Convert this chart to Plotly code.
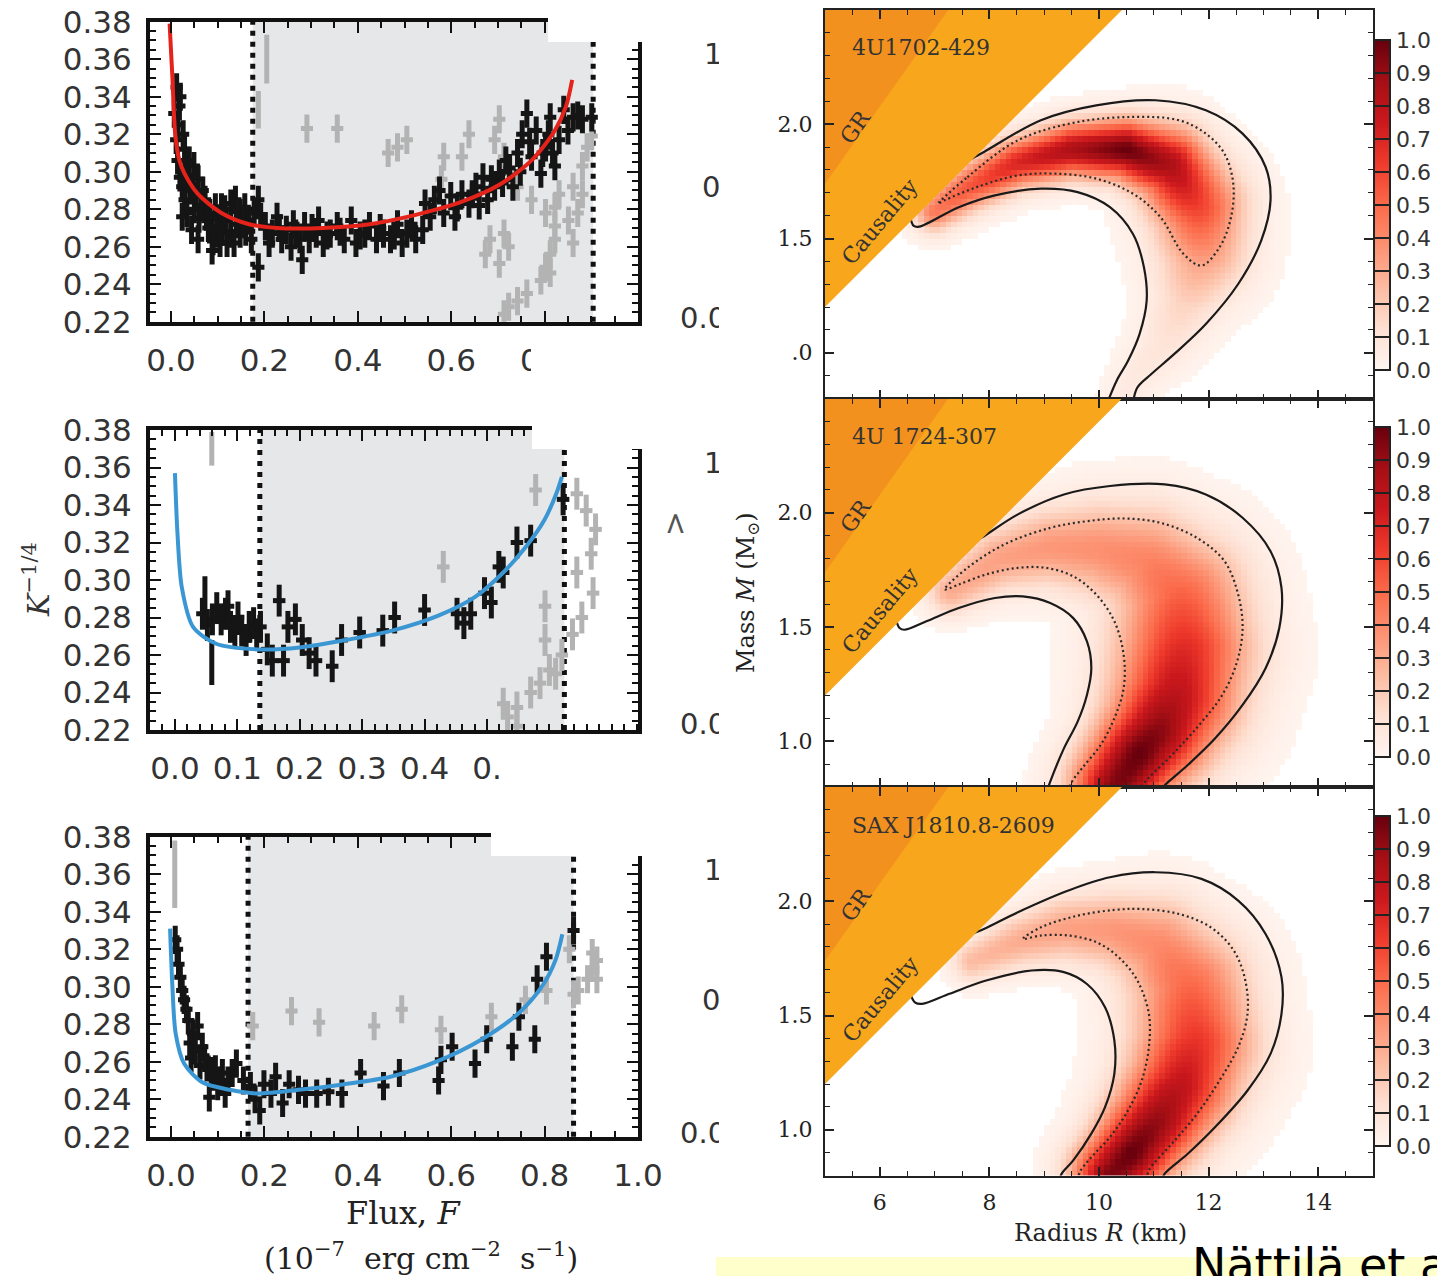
import numpy as np
import plotly.graph_objects as go

W, H = 1437, 1276
def fx(p): return p / W
def fy(p): return 1 - p / H

# ------------------------------------------------------------------ left column data
K_TICKS = [0.22, 0.24, 0.26, 0.28, 0.30, 0.32, 0.34, 0.36, 0.38]

L1_BLACK = [(0.007,0.331),(0.011,0.317),(0.014,0.306),(0.019,0.297),(0.024,0.292),(0.029,0.285),(0.034,0.278),
            (0.029,0.312),(0.039,0.306),(0.049,0.303),(0.058,0.296),(0.068,0.290),(0.073,0.285),(0.083,0.278),
            (0.088,0.271),(0.098,0.267),(0.108,0.281),(0.118,0.274),(0.128,0.283),(0.138,0.285),(0.148,0.278),
            (0.158,0.281),(0.167,0.274),(0.088,0.258),(0.058,0.264),(0.044,0.269),(0.024,0.276),(0.128,0.267),
            (0.148,0.267),(0.172,0.264),(0.187,0.285),(0.192,0.276),(0.187,0.249),(0.202,0.271),(0.217,0.267),
            (0.227,0.276),(0.237,0.264),(0.247,0.269),(0.257,0.260),(0.267,0.267),(0.281,0.253),(0.286,0.271),
            (0.296,0.264),(0.311,0.267),(0.316,0.274),(0.326,0.262),(0.341,0.267),(0.356,0.271),(0.371,0.264),
            (0.386,0.274),(0.396,0.262),(0.415,0.267),(0.425,0.271),(0.440,0.264),(0.455,0.267),(0.470,0.264),
            (0.485,0.272),(0.505,0.267),(0.524,0.264),(0.539,0.269),(0.544,0.283),(0.564,0.285),(0.584,0.278),
            (0.599,0.287),(0.613,0.281),(0.623,0.288),(0.638,0.283),(0.653,0.292),(0.668,0.297),(0.678,0.285),
            (0.693,0.292),(0.703,0.299),(0.717,0.306),(0.732,0.292),(0.742,0.310),(0.752,0.320),(0.762,0.331),
            (0.772,0.308),(0.782,0.322),(0.792,0.299),(0.802,0.313),(0.812,0.329),(0.822,0.303),(0.831,0.317),
            (0.841,0.333),(0.861,0.329),(0.881,0.328),(0.901,0.329),(0.817,0.310),
            (0.020,0.340),(0.015,0.325),(0.030,0.300),(0.040,0.290),(0.050,0.280),(0.060,0.275),(0.070,0.280),
            (0.080,0.270),(0.100,0.275),(0.110,0.268),(0.120,0.262),(0.140,0.272),(0.160,0.268),(0.090,0.263),
            (0.012,0.345),(0.018,0.335),(0.026,0.320),(0.036,0.298),(0.046,0.292),(0.054,0.287),(0.064,0.282),
            (0.076,0.276),(0.095,0.281),(0.105,0.262),(0.115,0.280),(0.135,0.262),(0.155,0.272),(0.178,0.278),
            (0.210,0.262),(0.232,0.270),(0.262,0.272),(0.276,0.264),(0.302,0.270),(0.334,0.266),(0.362,0.268),
            (0.405,0.266),(0.448,0.270),(0.478,0.266),(0.495,0.262),(0.515,0.272),(0.555,0.276),(0.575,0.290),
            (0.608,0.276),(0.645,0.288),(0.660,0.282),(0.686,0.296),(0.710,0.294),(0.725,0.302),(0.748,0.300),
            (0.768,0.316),(0.796,0.310),(0.808,0.320),(0.850,0.322),(0.871,0.330)]
L1_GREY = [(0.291,0.323),(0.356,0.323),(0.465,0.310),(0.485,0.313),(0.505,0.317),(0.584,0.308),(0.579,0.296),
           (0.623,0.308),(0.638,0.320),(0.703,0.328),(0.693,0.317),(0.713,0.308),(0.723,0.299),(0.742,0.292),
           (0.772,0.285),(0.802,0.278),(0.822,0.281),(0.831,0.288),(0.861,0.292),(0.881,0.303),(0.891,0.313),
           (0.901,0.319),(0.881,0.288),(0.871,0.278),(0.851,0.274),(0.822,0.271),(0.713,0.267),(0.683,0.264),
           (0.673,0.256),(0.703,0.251),(0.723,0.260),(0.822,0.264),(0.861,0.262),(0.812,0.256),(0.802,0.249),
           (0.792,0.242),(0.812,0.246),(0.762,0.235),(0.742,0.231),(0.723,0.228),(0.713,0.224)]
L1_GREY_BARS = [(0.205,0.360,0.013),(0.187,0.333,0.010)]
L1_FIT = [(-0.003,0.379),(0.003,0.350),(0.009,0.320),(0.018,0.306),(0.029,0.299),(0.058,0.288),(0.108,0.278),
          (0.167,0.272),(0.227,0.270),(0.326,0.270),(0.425,0.272),(0.524,0.277),(0.623,0.284),(0.703,0.293),
          (0.772,0.306),(0.822,0.322),(0.846,0.335),(0.859,0.349)]
L1_BOUNDS = [0.175, 0.904]

L2_BLACK = [(0.044,0.282),(0.067,0.285),(0.074,0.279),(0.081,0.282),(0.089,0.275),(0.096,0.272),
            (0.107,0.273),(0.119,0.275),(0.126,0.277),(0.137,0.275),(0.148,0.263),(0.156,0.257),(0.167,0.289),
            (0.174,0.257),(0.181,0.275),(0.193,0.279),(0.204,0.268),(0.215,0.261),(0.226,0.257),(0.252,0.254),
            (0.267,0.268),(0.296,0.272),(0.333,0.273),(0.352,0.280),(0.400,0.284),(0.452,0.282),(0.463,0.277),
            (0.474,0.282),(0.496,0.293),(0.507,0.288),(0.519,0.307),(0.526,0.304),(0.548,0.320),(0.570,0.321),
            (0.622,0.343),(0.052,0.276),(0.060,0.279),(0.085,0.286),(0.101,0.280),(0.114,0.268),(0.131,0.271)]
L2_BLACK_BARS = [(0.048,0.288,0.014),(0.059,0.256,0.012)]
L2_GREY = [(0.430,0.307),(0.578,0.348),(0.644,0.346),(0.659,0.337),(0.674,0.327),(0.667,0.314),(0.644,0.304),
           (0.670,0.293),(0.593,0.286),(0.652,0.280),(0.637,0.271),(0.593,0.268),(0.600,0.252),(0.585,0.245),
           (0.570,0.240),(0.548,0.232),(0.526,0.234),(0.533,0.227),(0.548,0.222),(0.620,0.260),(0.610,0.250)]
L2_GREY_BARS = [(0.059,0.370,0.009)]
L2_FIT = [(0.000,0.357),(0.004,0.325),(0.011,0.296),(0.029,0.275),(0.066,0.266),(0.133,0.263),(0.200,0.264),
          (0.274,0.268),(0.348,0.273),(0.422,0.281),(0.481,0.291),(0.526,0.304),(0.563,0.318),(0.592,0.332),
          (0.611,0.346),(0.620,0.355)]
L2_BOUNDS = [0.136, 0.624]

L3_BLACK = [(0.013,0.320),(0.020,0.305),(0.028,0.293),(0.037,0.282),(0.047,0.275),(0.057,0.279),(0.067,0.268),
            (0.077,0.257),(0.082,0.241),(0.091,0.252),(0.106,0.250),(0.116,0.243),(0.131,0.254),(0.140,0.259),
            (0.155,0.250),(0.170,0.247),(0.180,0.240),(0.190,0.234),(0.199,0.248),(0.214,0.243),(0.224,0.252),
            (0.239,0.238),(0.253,0.248),(0.273,0.245),(0.288,0.243),(0.312,0.243),(0.337,0.244),(0.366,0.243),
            (0.406,0.254),(0.455,0.247),(0.489,0.254),(0.573,0.250),(0.578,0.261),(0.602,0.268),(0.651,0.259),
            (0.676,0.272),(0.731,0.268),(0.745,0.284),(0.779,0.272),(0.784,0.304),(0.804,0.316),(0.862,0.330),
            (0.016,0.312),(0.024,0.298),(0.033,0.288),(0.043,0.262),(0.052,0.266),(0.062,0.258),(0.072,0.262),
            (0.086,0.255),(0.100,0.247),(0.122,0.250),(0.009,0.325),(0.040,0.270),(0.095,0.256),(0.110,0.254)]
L3_GREY = [(0.175,0.279),(0.258,0.287),(0.317,0.281),(0.435,0.279),(0.494,0.288),(0.578,0.277),(0.686,0.284),
           (0.759,0.293),(0.804,0.298),(0.853,0.320),(0.902,0.318),(0.912,0.314),(0.892,0.304),(0.912,0.304),
           (0.872,0.298),(0.902,0.310),(0.862,0.296)]
L3_GREY_BARS = [(0.008,0.360,0.018)]
L3_FIT = [(-0.002,0.331),(0.003,0.300),(0.010,0.275),(0.028,0.259),(0.067,0.249),(0.126,0.245),(0.185,0.243),
          (0.273,0.245),(0.371,0.248),(0.470,0.252),(0.568,0.260),(0.666,0.272),(0.745,0.286),(0.794,0.300),
          (0.823,0.314),(0.838,0.328)]
L3_BOUNDS = [0.165, 0.862]

# ------------------------------------------------------------------ right column data
MASS_TICKS = [1.0, 1.5, 2.0]
RADIUS_TICKS = [6, 8, 10, 12, 14]
CB_TICKS = [0.0, 0.1, 0.2, 0.3, 0.4, 0.5, 0.6, 0.7, 0.8, 0.9, 1.0]
SOURCES = ["4U1702-429", "4U 1724-307", "SAX J1810.8-2609"]
CAUSALITY_R, CAUSALITY_M = [5.0, 10.42, 5.0], [1.20, 2.50, 2.50]
GR_R, GR_M = [5.0, 7.25, 5.0], [1.74, 2.50, 2.50]

# ridge control points of the posterior (R, M, peak, width in px)
TOP_RIDGE = [(7.0,1.62,0.45,14),(7.6,1.72,0.55,16),(8.5,1.83,0.70,17),(9.5,1.89,0.85,18),(10.5,1.89,1.00,20),
             (11.3,1.82,0.85,26),(11.8,1.64,0.60,31),(11.9,1.45,0.35,31),(11.62,1.25,0.18,24),(11.22,1.05,0.10,20),
             (10.66,0.90,0.07,15),(10.35,0.78,0.06,12)]
MID_RIDGE = [(7.3,1.66,0.30,16),(8.2,1.80,0.33,22),(9.1,1.85,0.36,26),(10.0,1.84,0.38,32),(10.9,1.78,0.42,38),
             (11.5,1.62,0.52,44),(11.55,1.40,0.68,45),(11.4,1.20,0.80,42),(11.1,1.05,0.93,36),(10.75,0.95,1.00,32),
             (10.3,0.80,0.95,30)]
BOT_RIDGE = [(7.7,1.74,0.25,14),(8.6,1.83,0.30,18),(9.4,1.88,0.33,22),(10.3,1.87,0.36,26),(11.1,1.80,0.40,34),
             (11.65,1.62,0.50,40),(11.75,1.38,0.65,40),(11.5,1.20,0.78,36),(11.1,1.05,0.90,32),(10.6,0.90,1.00,28),
             (10.2,0.80,0.95,26)]

TOP_SOLID_OUT = [(10.62,0.78),(10.70,0.848),(10.95,0.906),(11.37,0.994),(11.95,1.126),(12.54,1.301),(12.96,1.491),
                 (13.13,1.667),(13.04,1.813),(12.62,1.959),(11.95,2.061),(11.03,2.105),(9.95,2.083),(8.94,2.018),
                 (7.90,1.879),(7.60,1.84)]
TOP_SOLID_IN = [(6.55,1.60),(6.62,1.555),(6.72,1.552),(7.44,1.637),(8.10,1.689),(8.94,1.718),(9.61,1.703),
                (10.20,1.637),(10.62,1.520),(10.82,1.374),(10.87,1.228),(10.74,1.082),(10.53,0.965),(10.32,0.877),
                (10.15,0.78)]
TOP_DOTTED = [(7.06,1.652),(7.60,1.769),(8.52,1.930),(9.61,2.010),(10.62,2.032),(11.45,2.018),(11.95,1.959),
              (12.29,1.871),(12.45,1.740),(12.41,1.594),(12.20,1.462),(11.87,1.382),(11.54,1.433),(11.12,1.594),
              (10.62,1.696),(9.95,1.762),(9.19,1.784),(8.52,1.776),(7.77,1.725),(7.18,1.667),(7.06,1.652)]

MID_SOLID_OUT = [(11.10,0.78),(11.20,0.808),(11.62,0.896),(12.12,1.013),(12.62,1.159),(13.04,1.320),(13.29,1.496),
                 (13.33,1.671),(13.13,1.832),(12.62,1.978),(11.95,2.080),(11.20,2.124),(10.20,2.117),(9.36,2.080),
                 (8.52,1.993),(7.85,1.890),(7.55,1.85)]
MID_SOLID_IN = [(6.30,1.53),(6.36,1.496),(6.45,1.488),(6.85,1.525),(7.44,1.583),(8.10,1.627),(8.61,1.634),
                (9.11,1.605),(9.53,1.539),(9.78,1.437),(9.86,1.320),(9.78,1.203),(9.61,1.086),(9.36,0.969),
                (9.11,0.823),(9.05,0.78)]
MID_DOTTED = [(9.45,0.78),(9.49,0.816),(9.69,0.882),(10.03,0.984),(10.28,1.101),(10.45,1.232),(10.45,1.379),
              (10.28,1.525),(9.95,1.642),(9.53,1.722),(9.03,1.759),(8.52,1.759),(7.94,1.730),(7.44,1.686),
              (7.18,1.664),(7.60,1.759),(8.27,1.861),(9.11,1.934),(9.78,1.963),(10.45,1.975),(11.12,1.956),
              (11.79,1.890),(12.29,1.788),(12.54,1.642),(12.62,1.496),(12.52,1.349),(12.25,1.203),(11.83,1.072),
              (11.33,0.940),(10.82,0.816),(10.75,0.78)]

BOT_SOLID_OUT = [(11.15,0.78),(11.20,0.808),(11.62,0.895),(12.12,1.012),(12.71,1.172),(13.13,1.332),(13.33,1.507),
                 (13.33,1.668),(13.04,1.857),(12.54,2.003),(11.87,2.098),(11.03,2.127),(10.20,2.105),(9.44,2.047),
                 (8.52,1.952),(7.90,1.879),(7.60,1.85)]
BOT_SOLID_IN = [(6.55,1.60),(6.64,1.558),(6.77,1.551),(7.27,1.595),(7.94,1.653),(8.77,1.697),(9.36,1.690),
                (9.78,1.638),(10.11,1.536),(10.28,1.391),(10.28,1.245),(10.11,1.099),(9.86,0.983),(9.53,0.866),
                (9.32,0.808),(9.28,0.78)]
BOT_DOTTED = [(9.62,0.78),(9.65,0.815),(9.86,0.880),(10.20,0.968),(10.53,1.085),(10.78,1.216),(10.91,1.362),
              (10.91,1.507),(10.70,1.653),(10.36,1.755),(9.95,1.821),(9.44,1.850),(8.94,1.850),(8.61,1.835),
              (8.94,1.886),(9.61,1.937),(10.28,1.962),(10.78,1.966),(11.45,1.945),(12.04,1.886),(12.46,1.784),
              (12.67,1.653),(12.71,1.507),(12.54,1.362),(12.20,1.216),(11.79,1.070),(11.33,0.939),(10.91,0.822),
              (10.88,0.78)]

REDS = [[0.0, '#fff5f0'], [0.125, '#fee0d2'], [0.25, '#fcbba1'], [0.375, '#fc9272'], [0.5, '#fb6a4a'],
        [0.625, '#ef3b2c'], [0.75, '#cb181d'], [0.875, '#a50f15'], [1.0, '#67000d']]

PX_PER_KM, PX_PER_MSUN = 54.8, 228.4
R_CENTERS = np.arange(5.05, 15.0, 0.1)
M_CENTERS = np.arange(0.8125, 2.5, 0.025)

def ridge_density(ridge):
    RR, MM = np.meshgrid(R_CENTERS, M_CENTERS)
    Z = np.zeros_like(RR)
    pts = np.array(ridge, dtype=float)
    for i in range(len(pts) - 1):
        for t in np.linspace(0, 1, 16, endpoint=False):
            r, m, a, w = pts[i] + (pts[i + 1] - pts[i]) * t
            d2 = ((RR - r) * PX_PER_KM) ** 2 + ((MM - m) * PX_PER_MSUN) ** 2
            Z = np.maximum(Z, a * np.exp(-d2 / (2 * w * w)))
    Z[Z < 0.008] = np.nan
    return Z

# ------------------------------------------------------------------ figure
fig = go.Figure()
BLACK, GREY = '#151515', '#b3b3b3'

left = [
    dict(n='', black=L1_BLACK, bbars=[], grey=L1_GREY, gbars=L1_GREY_BARS, fit=L1_FIT, fitc='#e5231b',
         bounds=L1_BOUNDS, ex=0.013, ey=0.0075),
    dict(n='2', black=L2_BLACK, bbars=L2_BLACK_BARS, grey=L2_GREY, gbars=L2_GREY_BARS, fit=L2_FIT,
         fitc='#3a97d4', bounds=L2_BOUNDS, ex=0.010, ey=0.0085),
    dict(n='3', black=L3_BLACK, bbars=[], grey=L3_GREY, gbars=L3_GREY_BARS, fit=L3_FIT, fitc='#3a97d4',
         bounds=L3_BOUNDS, ex=0.013, ey=0.0075),
]
shapes = []
for p in left:
    xa, ya = 'x' + p['n'], 'y' + p['n']
    for pts, col in ((p['grey'], GREY), (p['black'], BLACK)):
        xs, ys = zip(*pts)
        fig.add_trace(go.Scatter(x=xs, y=ys, mode='markers', xaxis=xa, yaxis=ya, marker=dict(size=1, color=col),
                                 error_x=dict(type='constant', value=p['ex'], width=0, thickness=5, color=col),
                                 error_y=dict(type='constant', value=p['ey'], width=0, thickness=5, color=col),
                                 hoverinfo='skip', showlegend=False))
    for bars, col in ((p['gbars'], GREY), (p['bbars'], BLACK)):
        if bars:
            xs, ys, es = zip(*bars)
            fig.add_trace(go.Scatter(x=xs, y=ys, mode='markers', xaxis=xa, yaxis=ya,
                                     marker=dict(size=1, color=col),
                                     error_y=dict(type='data', array=list(es), width=0, thickness=5, color=col),
                                     hoverinfo='skip', showlegend=False))
    fx_, fy_ = zip(*p['fit'])
    fig.add_trace(go.Scatter(x=fx_, y=fy_, mode='lines', xaxis=xa, yaxis=ya, line=dict(color=p['fitc'], width=4,
                             shape='spline', smoothing=0.8), hoverinfo='skip', showlegend=False))
    b0, b1 = p['bounds']
    shapes.append(dict(type='rect', xref=xa, yref=ya + ' domain', x0=b0, x1=b1, y0=0, y1=1,
                       fillcolor='#e6e7e9', line=dict(width=0), layer='below'))
    for b in (b0, b1):
        shapes.append(dict(type='line', xref=xa, yref=ya + ' domain', x0=b, x1=b, y0=0, y1=1,
                           line=dict(color='#111', width=5, dash='5px,6px'), layer='below'))

ridges = [TOP_RIDGE, MID_RIDGE, BOT_RIDGE]
solids = [(TOP_SOLID_OUT, TOP_SOLID_IN), (MID_SOLID_OUT, MID_SOLID_IN), (BOT_SOLID_OUT, BOT_SOLID_IN)]
dotteds = [TOP_DOTTED, MID_DOTTED, BOT_DOTTED]
cb_centers = [205, 592, 981]
for k in range(3):
    xa, ya = 'x' + str(4 + k), 'y' + str(4 + k)
    fig.add_trace(go.Heatmap(x=R_CENTERS, y=M_CENTERS, z=ridge_density(ridges[k]), colorscale=REDS, zmin=0, zmax=1,
                             xaxis=xa, yaxis=ya, hoverinfo='skip', zsmooth=False,
                             colorbar=dict(x=fx(1374), xanchor='left', y=fy(cb_centers[k]), yanchor='middle',
                                           len=330, lenmode='pixels', thickness=16, outlinewidth=2,
                                           outlinecolor='#222', ticks='inside', ticklen=16, tickwidth=1.5,
                                           tickcolor='#222', tickvals=CB_TICKS,
                                           ticktext=['%.1f' % v for v in CB_TICKS],
                                           tickfont=dict(family='DejaVu Sans', size=22, color='#333'),
                                           xpad=0, ypad=0)))
    for path in solids[k]:
        xs, ys = zip(*path)
        fig.add_trace(go.Scatter(x=xs, y=ys, mode='lines', xaxis=xa, yaxis=ya,
                                 line=dict(color='#1a1a1a', width=2.2, shape='spline', smoothing=1.0),
                                 hoverinfo='skip', showlegend=False))
    xs, ys = zip(*dotteds[k])
    fig.add_trace(go.Scatter(x=xs, y=ys, mode='lines', xaxis=xa, yaxis=ya,
                             line=dict(color='#2a2a2a', width=2.2, dash='2px,3px', shape='spline', smoothing=1.0),
                             hoverinfo='skip', showlegend=False))
    fig.add_trace(go.Scatter(x=CAUSALITY_R, y=CAUSALITY_M, mode='lines', fill='toself', fillcolor='#f8a61c',
                             line=dict(width=0, color='#f8a61c'), xaxis=xa, yaxis=ya, hoverinfo='skip',
                             showlegend=False))
    fig.add_trace(go.Scatter(x=GR_R, y=GR_M, mode='lines', fill='toself', fillcolor='#f3911f',
                             line=dict(width=0, color='#f3911f'), xaxis=xa, yaxis=ya, hoverinfo='skip',
                             showlegend=False))

# clipped fragments of a neighbouring panel
FRAG = [("1.0", 704, 57), ("0.5", 702, 190), ("0.0", 680, 321),
        ("1.0", 704, 466), ("0.0", 680, 727),
        ("1.0", 704, 873), ("0.5", 702, 1003), ("0.0", 680, 1136)]
fig.add_trace(go.Scatter(x=[f[1] for f in FRAG], y=[f[2] for f in FRAG], text=[f[0] for f in FRAG],
                         mode='text', textposition='middle right', xaxis='x7', yaxis='y7', cliponaxis=True,
                         textfont=dict(family='DejaVu Sans', size=29, color='#333'), hoverinfo='skip',
                         showlegend=False))

# ------------------------------------------------------------------ axes
def left_axis(dom, rng, **kw):
    d = dict(domain=dom, range=rng, showline=True, linewidth=4, linecolor='#111', mirror='allticks',
             ticks='inside', ticklen=11, tickwidth=2, tickcolor='#111', showgrid=False, zeroline=False,
             automargin=False,
             tickfont=dict(family='DejaVu Sans', size=31, color='#333'), ticklabelstandoff=8)
    d.update(kw)
    return d

ymin = dict(ticks='inside', ticklen=6, tickwidth=1.5, tickcolor='#111', dtick=0.005, tick0=0, showgrid=False)
lay = dict(width=W, height=H, margin=dict(l=0, r=0, t=0, b=0, pad=0, autoexpand=False),
           paper_bgcolor='white', plot_bgcolor='white', autosize=False,
           font=dict(family='DejaVu Sans'), showlegend=False)
ldoms = [(21.7, 321.7), (430, 730), (836.7, 1136.7)]
xr = [[-0.045, 1.0], [-0.04, 0.742], [-0.045, 1.0]]
for i, n in enumerate(['', '2', '3']):
    t, b = ldoms[i]
    if i == 1:
        xkw = dict(tickvals=[0, 0.1, 0.2, 0.3, 0.4, 0.5],
                   ticktext=['0.0', '0.1', '0.2', '0.3', '0.4', '0.'],
                   minor=dict(ticks='inside', ticklen=6, tickwidth=1.5, tickcolor='#111', dtick=0.02, tick0=0,
                              showgrid=False))
    else:
        xkw = dict(dtick=0.2, tick0=0, tickformat='.1f',
                   minor=dict(ticks='inside', ticklen=6, tickwidth=1.5, tickcolor='#111', dtick=0.05, tick0=0,
                              showgrid=False))
    lay['xaxis' + n] = left_axis([fx(150), fx(638)], xr[i], anchor='y' + n, **xkw)
    lay['yaxis' + n] = left_axis([fy(b), fy(t)], [0.22, 0.38], anchor='x' + n, tickvals=K_TICKS,
                                 tickformat='.2f', minor=ymin)

rdoms = [(10, 398.5), (398.5, 787), (787, 1175.5)]
for k in range(3):
    t, b = rdoms[k]
    n = str(4 + k)
    lay['xaxis' + n] = dict(domain=[fx(825), fx(1373)], range=[5, 15], anchor='y' + n, showline=True,
                            linewidth=2, linecolor='#222', mirror='allticks', ticks='inside', ticklen=9,
                            tickwidth=1.5, tickcolor='#222', tickvals=RADIUS_TICKS, showgrid=False, zeroline=False,
                            showticklabels=(k == 2), ticklabelstandoff=6, automargin=False,
                            tickfont=dict(family='DejaVu Serif', size=22, color='#222'),
                            minor=dict(ticks='inside', ticklen=5, tickwidth=1.2, tickcolor='#222', dtick=0.5,
                                       tick0=0, showgrid=False))
    lay['yaxis' + n] = dict(domain=[fy(b), fy(t)], range=[0.8, 2.5], anchor='x' + n, showline=True,
                            linewidth=2, linecolor='#222', mirror='allticks', ticks='inside', ticklen=9,
                            tickwidth=1.5, tickcolor='#222', tickvals=MASS_TICKS, tickformat='.1f',
                            showgrid=False, zeroline=False, ticklabelstandoff=6, automargin=False,
                            tickfont=dict(family='DejaVu Serif', size=22, color='#222'),
                            minor=dict(ticks='inside', ticklen=5, tickwidth=1.2, tickcolor='#222', dtick=0.1,
                                       tick0=0, showgrid=False))
lay['xaxis7'] = dict(domain=[fx(640), fx(719)], range=[640, 719], visible=False, anchor='y7', automargin=False)
lay['yaxis7'] = dict(domain=[0, 1], range=[H, 0], visible=False, anchor='x7', automargin=False)

# collage patches
def prect(x0, y0, x1, y1, col='white', layer='above'):
    return dict(type='rect', xref='paper', yref='paper', x0=fx(x0), x1=fx(x1), y0=fy(y1), y1=fy(y0),
                fillcolor=col, line=dict(width=0), layer=layer)
shapes += [prect(548, 12, 645, 42), prect(532, 422, 645, 449), prect(491, 828, 645, 856),
           prect(531, 333, 675, 374), prect(765, 336, 793, 368),
           prect(716, 1257, 1437, 1276, '#ffffcc', 'below')]
lay['shapes'] = shapes

def ann(text, x, y, size, family='DejaVu Serif', color='#222', angle=0, xa='center', ya='middle'):
    return dict(text=text, x=fx(x), y=fy(y), xref='paper', yref='paper', showarrow=False, textangle=angle,
                xanchor=xa, yanchor=ya, font=dict(family=family, size=size, color=color))

anns = [ann('<i>K</i><sup>−1/4</sup>', 36, 580, 30, color='#333', angle=-90),
        ann('Flux, <i>F</i>', 403, 1213, 32),
        ann('(10<sup>−7</sup>  erg cm<sup>−2</sup>  s<sup>−1</sup>)', 421, 1256, 30),
        ann('Mass <i>M</i> (M<sub>⊙</sub>)', 748, 593, 24, angle=-90),
        ann('Radius <i>R</i> (km)', 1100, 1233, 24),
        ann('<', 677, 523, 30, family='DejaVu Sans', color='#555', angle=90),
        ann('Nättilä et al. (2016)', 1190, 1236, 46, family='DejaVu Sans', color='#000', xa='left', ya='top')]
for k in range(3):
    off = 388.5 * k
    anns.append(ann(SOURCES[k], 850, 48 + off, 22, color='#333', xa='left'))
    anns.append(ann('GR', 856, 127 + off, 22, color='#333', angle=-55))
    anns.append(ann('Causality', 880, 222 + off, 22, color='#333', angle=-50))
lay['annotations'] = anns

fig.update_layout(**lay)
fig.write_html("out.html")
